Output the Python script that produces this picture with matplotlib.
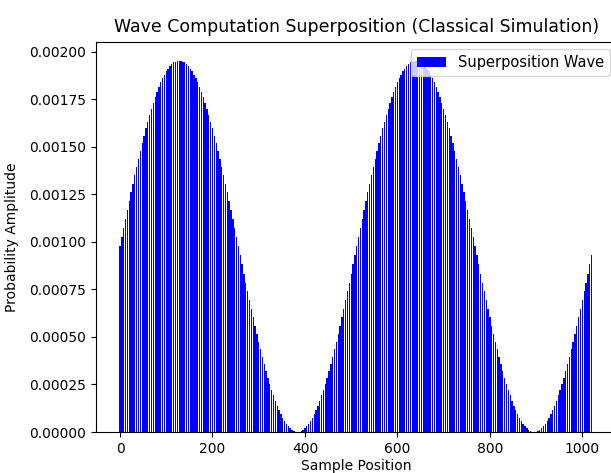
import numpy as np
import matplotlib
matplotlib.use("Agg")
import matplotlib.pyplot as plt

# probability, in units of 1e-6, every 4th sample position
amp_1e6 = [
    977, 1024, 1072, 1120, 1167, 1214, 1260, 1306, 1350, 1394, 1437, 1479, 1519, 1558, 1596, 1632,
    1667, 1700, 1731, 1761, 1789, 1814, 1838, 1859, 1879, 1896, 1911, 1924, 1934, 1943, 1948, 1952,
    1953, 1952, 1948, 1943, 1934, 1924, 1911, 1896, 1879, 1859, 1838, 1814, 1789, 1761, 1731, 1700,
    1667, 1632, 1596, 1558, 1519, 1479, 1437, 1394, 1350, 1306, 1260, 1214, 1167, 1120, 1072, 1024,
    977, 929, 881, 833, 786, 739, 693, 647, 603, 559, 516, 474, 434, 395, 357, 321,
    286, 253, 222, 192, 164, 139, 115, 94, 74, 57, 42, 29, 19, 10, 5, 1,
    0, 1, 5, 10, 19, 29, 42, 57, 74, 94, 115, 139, 164, 192, 222, 253,
    286, 321, 357, 395, 434, 474, 516, 559, 603, 647, 693, 739, 786, 833, 881, 929,
    977, 1024, 1072, 1120, 1167, 1214, 1260, 1306, 1350, 1394, 1437, 1479, 1519, 1558, 1596, 1632,
    1667, 1700, 1731, 1761, 1789, 1814, 1838, 1859, 1879, 1896, 1911, 1924, 1934, 1943, 1948, 1952,
    1953, 1952, 1948, 1943, 1934, 1924, 1911, 1896, 1879, 1859, 1838, 1814, 1789, 1761, 1731, 1700,
    1667, 1632, 1596, 1558, 1519, 1479, 1437, 1394, 1350, 1306, 1260, 1214, 1167, 1120, 1072, 1024,
    977, 929, 881, 833, 786, 739, 693, 647, 603, 559, 516, 474, 434, 395, 357, 321,
    286, 253, 222, 192, 164, 139, 115, 94, 74, 57, 42, 29, 19, 10, 5, 1,
    0, 1, 5, 10, 19, 29, 42, 57, 74, 94, 115, 139, 164, 192, 222, 253,
    286, 321, 357, 395, 434, 474, 516, 559, 603, 647, 693, 739, 786, 833, 881, 929,
]
step = 4
positions = np.arange(len(amp_1e6)) * step
probs = np.array(amp_1e6) * 1e-6

fig = plt.figure(figsize=(6.11, 4.73), dpi=100)
# the reference is a crop: the right spine falls just outside the picture
ax = fig.add_axes([96/611, 41/473, 521/611, 390/473])

ax.bar(positions, probs, width=step*0.72, color='blue', label='Superposition Wave')
ax.set_xlim(-52, 1075)
ax.set_title('Wave Computation Superposition (Classical Simulation)', fontsize=12.5, pad=7)
ax.set_xlabel('Sample Position', labelpad=2)
ax.set_ylabel('Probability Amplitude')
ax.yaxis.set_label_coords(-0.148, 0.5)
ax.legend(loc='upper right', fontsize=10.5)

fig.savefig('out.png', dpi=100)
